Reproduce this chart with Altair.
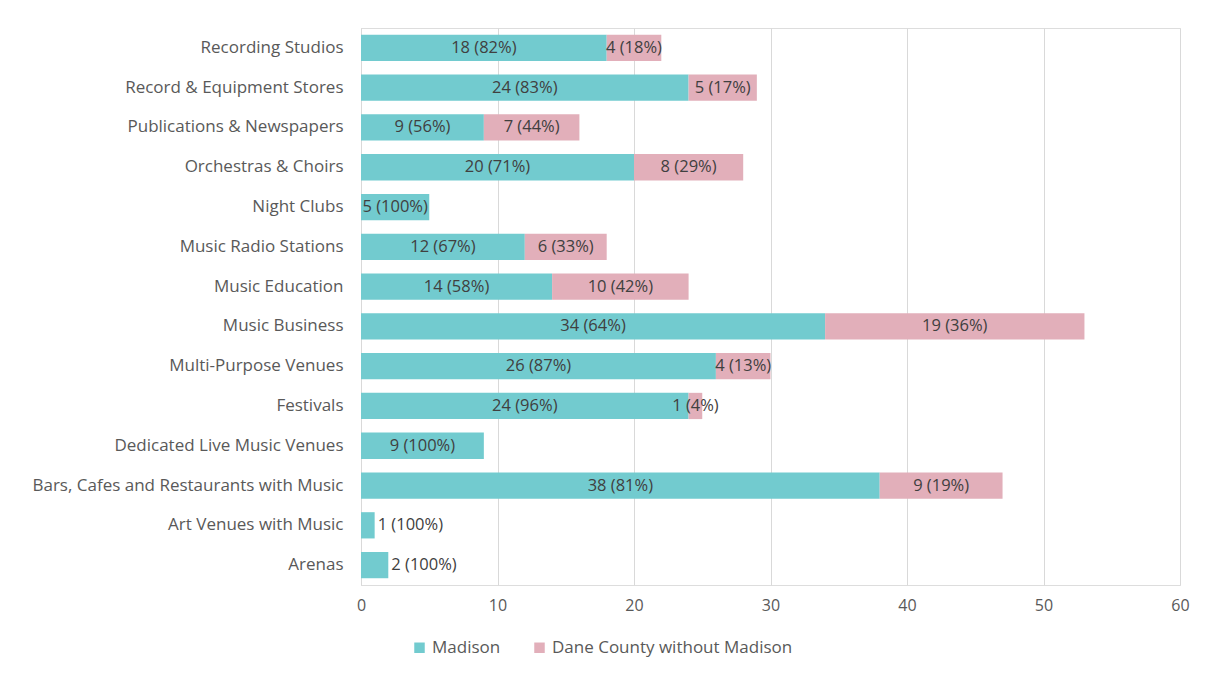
import altair as alt
import pandas as pd

categories = [
    "Recording Studios", "Record & Equipment Stores", "Publications & Newspapers",
    "Orchestras & Choirs", "Night Clubs", "Music Radio Stations", "Music Education",
    "Music Business", "Multi-Purpose Venues", "Festivals", "Dedicated Live Music Venues",
    "Bars, Cafes and Restaurants with Music", "Art Venues with Music", "Arenas",
]
madison = [18, 24, 9, 20, 5, 12, 14, 34, 26, 24, 9, 38, 1, 2]
dane = [4, 5, 7, 8, 0, 6, 10, 19, 4, 1, 0, 9, 0, 0]
series = ["Madison", "Dane County without Madison"]
colors = ["#72CBCF", "#E2AFBA"]

rows = []
for c, m, d in zip(categories, madison, dane):
    tot = m + d
    for s, v, start in [(series[0], m, 0), (series[1], d, m)]:
        if v == 0:
            continue
        pct = round(100 * v / tot)
        small = (start == 0 and v < 3)
        rows.append({
            "category": c, "series": s, "value": v,
            "start": start, "end": start + v,
            "mid": start + v / 2,
            "label": f"{v} ({pct}%)",
            "small": small,
        })
df = pd.DataFrame(rows)

FONT = "Open Sans"
GREY = "#595959"

base = alt.Chart(df)

bars = base.mark_bar().encode(
    y=alt.Y("category:N", sort=categories, title=None,
            scale=alt.Scale(paddingInner=0.34, paddingOuter=0.17),
            axis=alt.Axis(labelFontSize=17, labelColor=GREY, labelFont=FONT,
                          ticks=False, labelPadding=18, domainColor="#D9D9D9",
                          labelLimit=400)),
    x=alt.X("start:Q", title=None,
            scale=alt.Scale(domain=[0, 60], nice=False),
            axis=alt.Axis(values=[0, 10, 20, 30, 40, 50, 60], labelFontSize=16,
                          labelColor=GREY, labelFont=FONT, grid=True, labelFlush=False,
                          gridColor="#D9D9D9", domain=False, ticks=False,
                          labelPadding=12)),
    x2="end:Q",
    color=alt.Color("series:N", sort=series,
                    scale=alt.Scale(domain=series, range=colors),
                    legend=alt.Legend(title=None, orient="none", direction="horizontal",
                                      legendX=50, legendY=611,
                                      symbolType="square", symbolSize=110,
                                      symbolStrokeWidth=0, labelLimit=0,
                                      labelFontSize=17, labelColor=GREY, labelFont=FONT,
                                      columnPadding=30)),
)

text_center = base.transform_filter("!datum.small").mark_text(
    align="center", baseline="middle", fontSize=16.5, font=FONT, color="#404040"
).encode(
    y=alt.Y("category:N", sort=categories),
    x=alt.X("mid:Q"),
    text="label:N",
)

text_left = base.transform_filter("datum.small").mark_text(
    align="left", baseline="middle", fontSize=16.5, font=FONT, color="#404040", dx=3
).encode(
    y=alt.Y("category:N", sort=categories),
    x=alt.X("end:Q"),
    text="label:N",
)

chart = alt.layer(bars, text_center, text_left).properties(
    width=819, height=557,
    autosize=alt.AutoSizeParams(type="none"),
    padding={"left": 353, "top": 20, "right": 20, "bottom": 80},
).configure_view(stroke=None).configure(background="white")

chart.save("out.html", embed_options={"renderer": "svg", "actions": False})
